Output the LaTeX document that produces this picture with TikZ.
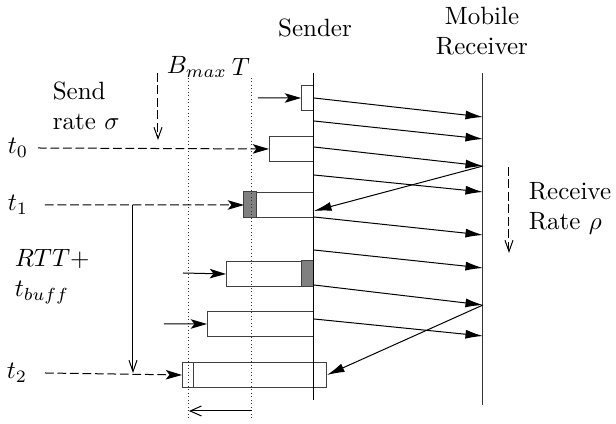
\documentclass[tikz,border=0pt]{standalone}
\usepackage{amsmath}
\usepackage{tikz}
\usetikzlibrary{arrows.meta}

\begin{document}
\begin{tikzpicture}[x=0.4pt, y=-0.4pt,
      % one unit is one pixel of the sketch, y runs down
      pkt/.style={draw=black!75, fill=white, minimum height=10pt, inner
      sep=0pt, anchor=north east}, lost/.style={draw=black!75, fill=black!50},
      msg/.style={-{Latex[length=7pt,width=3.6pt]}},
      push/.style={-{Stealth[length=6.5pt,width=3.8pt,inset=1.5pt]}},
      tick/.style={dash pattern=on 3.5pt off 1.5pt, push},
      rate/.style={dash pattern=on 3.5pt off 1.5pt, -{Straight
      Barb[length=4.5pt,width=3.2pt]}},
      bound/.style={densely dotted, black!80} ]
    \useasboundingbox (0,0) rectangle (616,424);

    % Packets queued at the sender
    \node[pkt, minimum width=4.8pt] (ba) at (314,85) {}; \node[pkt, minimum
    width=17.6pt] (b0) at (314,136) {}; \node[pkt, minimum width=27.6pt] (b1)
    at (314,192) {}; \node[pkt, minimum width=34.8pt] (b2) at (314,261) {};
    \node[pkt, minimum width=42.4pt] (b3) at (314,311) {}; \node[pkt, minimum
    width=57.6pt] (b4) at (327,362) {};

    % Lost parts
    \draw[lost] (b1.north west) rectangle ([xshift=5.2pt]b1.south west);
    \draw[lost] ([xshift=-4.8pt]b2.north east) rectangle (b2.south east);
    \draw[black!75] ([xshift=4.8pt]b4.north west) -- ([xshift=4.8pt]b4.south
    west);

    % Sender and receiver time lines
    \coordinate (stop) at (314,73); \coordinate (sbot) at (314,400);
    \coordinate (rtop) at (483,73); \coordinate (rbot) at (483,405);
    \draw (stop) -- (sbot); \draw[black!80] (rtop) -- (rbot);
    \node (snd) at (315,28) {Sender};
    \node[align=center] (rcv) at (482,31) {Mobile\\Receiver};

    % Buffer bounds
    \coordinate (btop) at (189,78); \coordinate (bbot) at (189,420);
    \coordinate (ttop) at (252,78); \coordinate (tbot) at (252,420);
    \draw[bound] (btop) -- (bbot); \draw[bound] (ttop) -- (tbot);
    \node (bmax) at (197,67) {$B_{max}$}; \node (tt) at (241,67) {$T$};
    \coordinate (wr) at (252,411); \coordinate (wl) at (189,411);
    \draw[-{Straight Barb[length=4.5pt,width=4pt]}] (wr) -- (wl);

    % Data packets and acks
    \foreach \a/\b [count=\i] in {98/117,121/139,147/166,175/192,
      217/235,250/268,285/305,319/336} { \coordinate (s\i) at (314,\a);
      \coordinate (r\i) at (483,\b); \draw[msg] (s\i) -- (r\i); }
    \coordinate (ack) at (314,211);
    \draw[msg] (r3) -- (ack); \draw[msg] (r7) -- (b4.east);

    % Packets pushed into the queue
    \coordinate (pa) at (258,98); \coordinate (p2) at (183,273);
    \coordinate (p3) at (164,324);
    \draw[push] (pa) -- (ba.west); \draw[push] (p2) -- (b2.west);
    \draw[push] (p3) -- (b3.west);

    % Time marks
    \node (tz) at (18,148) {$t_0$}; \node (to) at (18,205) {$t_1$};
    \node (tw) at (17,373) {$t_2$};
    \coordinate (tzs) at (38,148); \coordinate (tos) at (45,205);
    \coordinate (tws) at (45,373);
    \draw[tick] (tzs) -- (b0.west); \draw[tick] (tos) -- (b1.west);
    \draw[tick] (tws) -- (b4.west);
    \coordinate (rtt) at (133,205); \coordinate (rtb) at (133,373);
    \draw[-{Straight Barb[length=4.5pt,width=3.2pt]}] (rtt) -- (rtb);
    \node[align=left, anchor=west] (rttl) at (6,277) {$RTT+$\\$t_{buff}$};

    % Rates
    \node[align=left, anchor=west] (srate) at (44,106) {Send\\rate $\sigma$};
    \coordinate (sra) at (158,73); \coordinate (srb) at (158,140);
    \draw[rate] (sra) -- (srb);
    \node[align=left, anchor=west] (rrate) at (520,208) {Receive\\Rate $\rho$};
    \coordinate (rra) at (509,167); \coordinate (rrb) at (509,253);
    \draw[rate] (rra) -- (rrb);

  \end{tikzpicture}
\end{document}
